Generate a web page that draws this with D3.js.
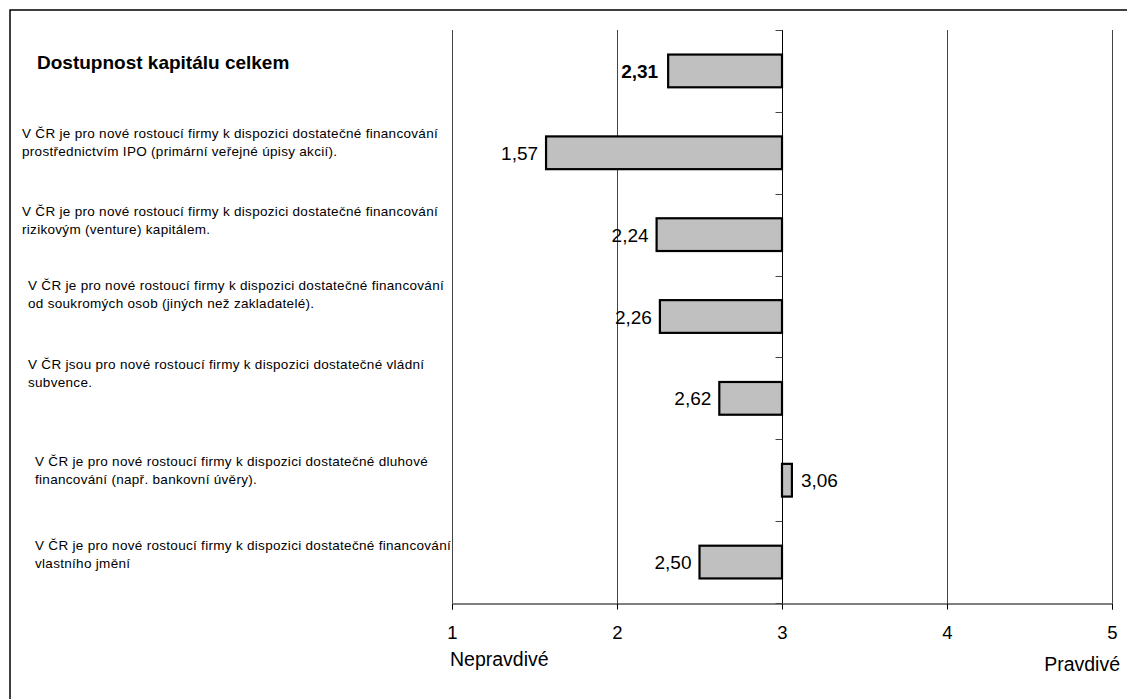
<!DOCTYPE html>
<html>
<head>
<meta charset="utf-8">
<script src="https://cdn.jsdelivr.net/npm/d3@7"></script>
<style>
  html, body { margin: 0; padding: 0; background: #fff; }
  svg { display: block; font-family: "Liberation Sans", Arial, sans-serif; }
</style>
</head>
<body>
<svg id="chart" width="1127" height="699"></svg>
<script>
// Survey statements (top to bottom), each split into its printed lines
const categories = [
  "Dostupnost kapitálu celkem",
  "IPO",
  "venture",
  "soukromé osoby",
  "vládní subvence",
  "dluhové financování",
  "vlastní jmění"
];
const categoryLines = [
  ["Dostupnost kapitálu celkem"],
  ["V ČR je pro nové rostoucí firmy k dispozici dostatečné financování",
   "prostřednictvím IPO (primární veřejné úpisy akcií)."],
  ["V ČR je pro nové rostoucí firmy k dispozici dostatečné financování",
   "rizikovým (venture) kapitálem."],
  ["V ČR je pro nové rostoucí firmy k dispozici dostatečné financování",
   "od soukromých osob (jiných než zakladatelé)."],
  ["V ČR jsou pro nové rostoucí firmy k dispozici dostatečné vládní",
   "subvence."],
  ["V ČR je pro nové rostoucí firmy k dispozici dostatečné dluhové",
   "financování (např. bankovní úvěry)."],
  ["V ČR je pro nové rostoucí firmy k dispozici dostatečné financování",
   "vlastního jmění"]
];
const values = [2.31, 1.57, 2.24, 2.26, 2.62, 3.06, 2.50];
const tickValues = [1, 2, 3, 4, 5];
const scaleLow = "Nepravdivé";
const scaleHigh = "Pravdivé";
const baseline = 3;

const svg = d3.select("#chart");
const W = 1127, H = 699;

// frame
svg.append("rect").attr("x", 10).attr("y", 10)
  .attr("width", W).attr("height", H)
  .attr("fill", "#fff").attr("stroke", "#000").attr("stroke-width", 1.5);

const plot = { left: 452, right: 1112, top: 30, bottom: 603 };

const x = d3.scaleLinear().domain([1, 5]).range([plot.left, plot.right]);
const y = d3.scaleBand().domain(categories)
  .range([plot.top, plot.bottom]).paddingInner(0.6).paddingOuter(0.3);

// vertical gridlines
svg.append("g").selectAll("line").data(tickValues.filter(v => v !== baseline))
  .join("line")
  .attr("x1", d => Math.round(x(d)) + 0.5).attr("x2", d => Math.round(x(d)) + 0.5)
  .attr("y1", plot.top).attr("y2", plot.bottom)
  .attr("stroke", "#444").attr("stroke-width", 1);

// bottom value axis
const xAxis = svg.append("g")
  .attr("transform", `translate(0,${plot.bottom + 0.5})`)
  .call(d3.axisBottom(x).tickValues(tickValues).tickSize(6).tickPadding(16).tickFormat(d3.format("d")));
xAxis.select(".domain").attr("stroke", "#000");
xAxis.selectAll(".tick line").attr("stroke", "#000");
xAxis.selectAll("text").attr("font-size", 18.5).attr("fill", "#000")
  .attr("font-family", "Liberation Sans, Arial, sans-serif");

svg.append("text").attr("x", plot.left - 2).attr("y", 666)
  .attr("font-size", 19.5).text(scaleLow);
svg.append("text").attr("x", plot.right + 8).attr("y", 671)
  .attr("text-anchor", "end").attr("font-size", 19.5).text(scaleHigh);

// bars grow from the neutral value 3
svg.append("g").selectAll("rect").data(values).join("rect")
  .attr("x", d => x(Math.min(d, baseline)))
  .attr("width", d => Math.abs(x(d) - x(baseline)))
  .attr("y", (d, i) => y(categories[i]))
  .attr("height", y.bandwidth())
  .attr("fill", "#c0c0c0").attr("stroke", "#000").attr("stroke-width", 2.2);

// category axis through the neutral value
const bx = Math.round(x(baseline)) + 0.5;
svg.append("line").attr("x1", bx).attr("x2", bx)
  .attr("y1", plot.top).attr("y2", plot.bottom).attr("stroke", "#000");
const step = y.step();
const edges = d3.range(categories.length + 1).map(i => plot.top + i * step);
svg.append("g").selectAll("line").data(edges).join("line")
  .attr("x1", bx - 7).attr("x2", bx)
  .attr("y1", d => Math.round(d) + 0.5).attr("y2", d => Math.round(d) + 0.5)
  .attr("stroke", "#444");

// value labels
const fmt = v => d3.format(".2f")(v).replace(".", ",");
svg.append("g").selectAll("text").data(values).join("text")
  .attr("x", (d, i) => d < baseline ? x(d) - (i === 0 ? 10 : 8) : x(d) + 9)
  .attr("y", (d, i) => y(categories[i]) + y.bandwidth() / 2 + 7)
  .attr("text-anchor", d => d < baseline ? "end" : "start")
  .attr("font-size", 19)
  .attr("font-weight", (d, i) => i === 0 ? "bold" : "normal")
  .text(fmt);

// statement labels on the left
svg.append("text").attr("x", 37).attr("y", 69)
  .attr("font-size", 19).attr("font-weight", "bold").text(categoryLines[0][0]);

const labelX = [0, 22, 22, 28, 28, 35, 35];
const labelDy = [0, -19, -23, -31, -33, -18, -16];
const lg = svg.append("g").attr("font-size", 13.5).attr("letter-spacing", 0.3);
categoryLines.forEach((lines, i) => {
  if (i === 0) return;
  const cy = y(categories[i]) + y.bandwidth() / 2;
  const t = lg.append("text").attr("x", labelX[i]).attr("y", cy + labelDy[i] + 4);
  lines.forEach((s, j) => t.append("tspan").attr("x", labelX[i]).attr("dy", j ? 18 : 0).text(s));
});
</script>
</body>
</html>
